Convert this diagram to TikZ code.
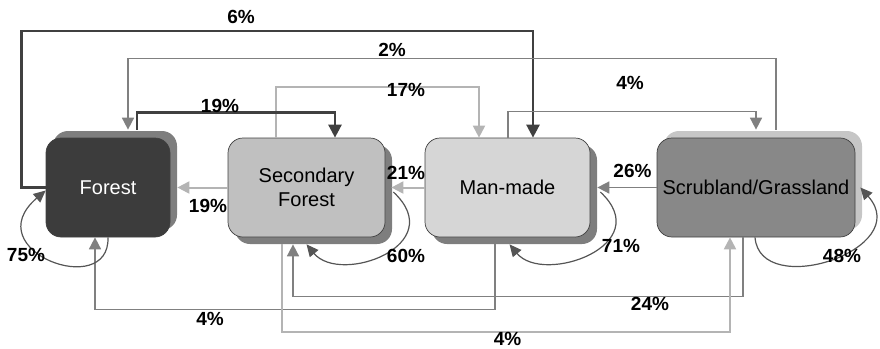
\documentclass[tikz,border=0pt]{standalone}
\usepackage{fontspec}
\setmainfont{Liberation Sans}
\usetikzlibrary{arrows.meta,shadows}

\definecolor{forestfill}{HTML}{3C3C3C}
\definecolor{secfill}{HTML}{C0C0C0}
\definecolor{manfill}{HTML}{D6D6D6}
\definecolor{scrubfill}{HTML}{888888}
\definecolor{shadowdark}{HTML}{7E7E7E}
\definecolor{shadowlight}{HTML}{C6C6C6}
\definecolor{darkline}{HTML}{404040}
\definecolor{midline}{HTML}{808080}
\definecolor{lightline}{HTML}{B4B4B4}
\definecolor{loopgray}{HTML}{555555}

\tikzset{
  landbox/.style={draw=black!75, line width=0.7pt, rounded corners=15pt,
    minimum height=99pt, inner sep=0pt, align=center,
    font=\fontsize{20}{24}\selectfont},
  shadowup/.style={drop shadow={shadow xshift=7pt, shadow yshift=7pt, fill=#1, opacity=1}},
  shadowdown/.style={drop shadow={shadow xshift=7pt, shadow yshift=-7pt, fill=shadowdark, opacity=1}},
  pct/.style={font=\fontsize{19}{22}\selectfont\bfseries, inner sep=0pt},
  dkarrow/.style={-{Triangle[length=13pt,width=13pt]}, draw=darkline, line width=2.6pt},
  mdarrow/.style={-{Triangle[length=12pt,width=12pt]}, draw=midline, line width=1.6pt},
  ltarrow/.style={-{Triangle[length=12pt,width=12pt]}, draw=lightline, line width=2pt},
  looparrow/.style={-{Triangle[length=12pt,width=11pt]}, draw=loopgray, line width=1.2pt}
}

\begin{document}
\begin{tikzpicture}[x=1pt, y=-1pt]
        \useasboundingbox (0,0) rectangle (880,348);
        % land cover boxes
        \node[landbox, shadowup=shadowdark, fill=forestfill, text=white, minimum width=124pt] (forest) at (108,187.5) {Forest};
        \node[landbox, shadowdown, fill=secfill, minimum width=157pt] (secfor) at (306.5,187.5) {Secondary\\Forest};
        \node[landbox, shadowdown, fill=manfill, minimum width=165pt] (manmade) at (507.5,187.5) {Man-made};
        \node[landbox, shadowup=shadowlight, fill=scrubfill, minimum width=198pt] (scrub) at (756,187.5) {Scrubland/Grassland};
        % transitions over the top
        \draw[dkarrow] (forest.west) -- ++(-24,0) -- ++(0,-156.5) -| ([xshift=25.5pt]manmade.north);
        \draw[mdarrow] ([xshift=20pt,yshift=8pt]scrub.north) -- ++(0,-71) -| ([xshift=20pt,yshift=8pt]forest.north);
        \draw[ltarrow] ([xshift=-30.5pt]secfor.north) -- ++(0,-51) -| ([xshift=-28.5pt]manmade.north);
        \draw[dkarrow] ([xshift=29pt,yshift=8pt]forest.north) -- ++(0,-17) -| ([xshift=28.5pt]secfor.north);
        \draw[mdarrow] ([xshift=0.5pt]manmade.north) -- ++(0,-26) -| ([yshift=8pt]scrub.north);
        % transitions between neighbours
        \draw[ltarrow] (secfor.west) -- ([xshift=7pt]forest.east);
        \draw[ltarrow] (manmade.west) -- ([xshift=6pt]secfor.east);
        \draw[mdarrow] (scrub.west) -- ([xshift=7pt]manmade.east);
        % transitions underneath
        \draw[mdarrow] ([xshift=-12.5pt,yshift=-7pt]manmade.south) -- ++(0,65) -| ([xshift=-13pt]forest.south);
        \draw[mdarrow] ([xshift=-13pt]scrub.south) -- ++(0,59) -| ([xshift=-13.5pt,yshift=-7pt]secfor.south);
        \draw[ltarrow] ([xshift=-24.5pt,yshift=-7pt]secfor.south) -- ++(0,88) -| ([xshift=-26pt]scrub.south);
        % staying in the same class
        \draw[looparrow] (forest.south) .. controls +(2,63) and +(-70,60) .. ([yshift=-3pt]forest.west);
        \draw[looparrow] ([xshift=8pt,yshift=-4.5pt]secfor.east) .. controls +(57,53) and +(34,41) .. ([yshift=-7pt]secfor.south);
        \draw[looparrow] ([xshift=10pt,yshift=-4.5pt]manmade.east) .. controls +(57,53) and +(34,41) .. ([xshift=2pt,yshift=-7pt]manmade.south);
        \draw[looparrow] ([xshift=-1pt]scrub.south) .. controls +(5,63) and +(55,62) .. ([xshift=5pt]scrub.east);
        % percentages
        \foreach \txt/\x/\y/\nm in {6\%/241/16.5/psix, 2\%/392/49.5/ptwo, 17\%/406/89.5/pseventeen,
            19\%/220/105.5/pnineteena, 4\%/630/82.5/pfoura, 19\%/208/206/pnineteenb,
            21\%/406/172.5/ptwentyone, 26\%/632.5/170.5/ptwentysix, 75\%/26/254.5/pseventyfive,
            60\%/406/255.5/psixty, 71\%/621/245.5/pseventyone, 48\%/842/255.5/pfortyeight,
            4\%/210/318.5/pfourb, 24\%/650/303.5/ptwentyfour, 4\%/507.5/338.5/pfourc}
            \node[pct] (\nm) at (\x,\y) {\txt};
\end{tikzpicture}
\end{document}
